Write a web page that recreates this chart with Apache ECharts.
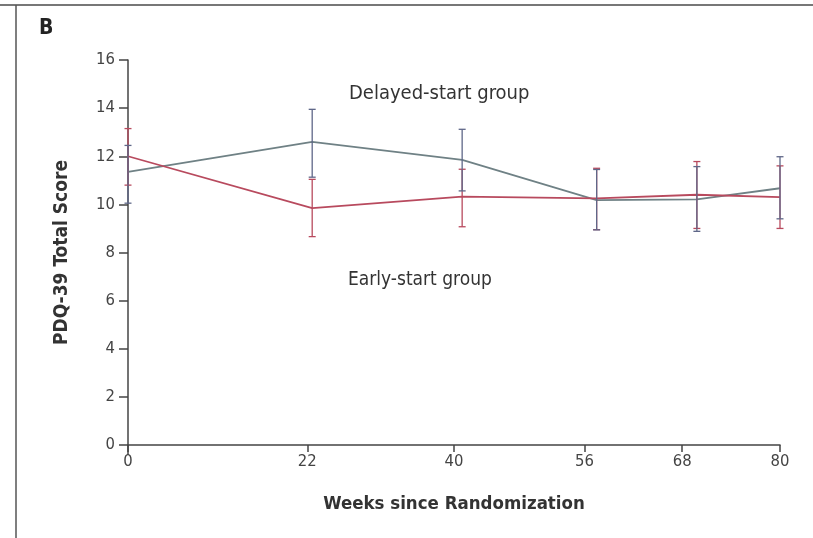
<!DOCTYPE html>
<html>
<head>
<meta charset="utf-8">
<script src="https://cdn.jsdelivr.net/npm/echarts@6/dist/echarts.min.js"></script>
<style>
  html, body { margin: 0; padding: 0; background: #fff; }
  #chart { width: 813px; height: 538px; }
</style>
</head>
<body>
<div id="chart"></div>
<script>
// Visit weeks (tick labels) and the plotted position of each visit
const tickWeeks = [0, 22, 40, 56, 68, 80];
const visitWeeks = [0, 22.6, 41, 57.5, 69.8, 80];

// PDQ-39 total score, mean with lower / upper error-bar ends
const earlyMean  = [12.0, 9.84, 10.32, 10.25, 10.4, 10.3];
const earlyLow   = [10.8, 8.66, 9.07, 8.95, 9.0, 9.0];
const earlyHigh  = [13.15, 11.04, 11.46, 11.5, 11.78, 11.6];

const delayedMean = [11.35, 12.6, 11.85, 10.18, 10.21, 10.67];
const delayedLow  = [10.05, 11.13, 10.56, 8.94, 8.88, 9.4];
const delayedHigh = [12.45, 13.95, 13.12, 11.45, 11.57, 11.98];

const yTicks = [0, 2, 4, 6, 8, 10, 12, 14, 16];

const FONT = '"Liberation Sans Narrow", "DejaVu Sans Condensed", "Open Sans", sans-serif';
const RED = '#b84a5e';
const GREY = '#6f8185';
const GREY_BAR = '#5f6788';

function pairs(xs, ys) { return xs.map((x, i) => [x, ys[i]]); }
function bars(xs, lo, hi) { return xs.map((x, i) => [x, lo[i], hi[i]]); }

function errorBar(color) {
  return function (params, api) {
    const x = api.value(0);
    const lo = api.coord([x, api.value(1)]);
    const hi = api.coord([x, api.value(2)]);
    const cap = 3.5;
    const style = { stroke: color, lineWidth: 1.3, fill: null };
    return {
      type: 'group',
      children: [
        { type: 'line', shape: { x1: lo[0], y1: lo[1], x2: hi[0], y2: hi[1] }, style },
        { type: 'line', shape: { x1: lo[0] - cap, y1: lo[1], x2: lo[0] + cap, y2: lo[1] }, style },
        { type: 'line', shape: { x1: hi[0] - cap, y1: hi[1], x2: hi[0] + cap, y2: hi[1] }, style }
      ]
    };
  };
}

const chart = echarts.init(document.getElementById('chart'), null, { renderer: 'canvas' });

chart.setOption({
  animation: false,
  backgroundColor: '#fff',
  grid: { left: 128, right: 33, top: 60, bottom: 93, containLabel: false },
  xAxis: {
    type: 'value',
    min: 0,
    max: 80,
    name: 'Weeks since Randomization',
    nameLocation: 'middle',
    nameGap: 50,
    nameTextStyle: { fontFamily: FONT, fontSize: 18.5, fontWeight: 'bold', color: '#333' },
    axisLine: { show: true, lineStyle: { color: '#444', width: 1.5 } },
    axisTick: { show: true, length: 7, customValues: tickWeeks, lineStyle: { color: '#444', width: 1.5 } },
    axisLabel: { customValues: tickWeeks, margin: 8, fontFamily: FONT, fontSize: 16.5, color: '#444' },
    splitLine: { show: false }
  },
  yAxis: {
    type: 'value',
    min: 0,
    max: 16,
    interval: 2,
    name: 'PDQ-39 Total Score',
    nameLocation: 'middle',
    nameGap: 56,
    nameRotate: 90,
    nameTextStyle: { fontFamily: FONT, fontSize: 19, fontWeight: 'bold', color: '#333' },
    axisLine: { show: true, lineStyle: { color: '#444', width: 1.5 } },
    axisTick: { show: true, length: 9, lineStyle: { color: '#444', width: 1.5 } },
    axisLabel: {
      margin: 13, fontFamily: FONT, fontSize: 16.5, color: '#444',
      formatter: v => (yTicks.includes(v) ? String(v) : '')
    },
    splitLine: { show: false }
  },
  series: [
    {
      name: 'Delayed-start group',
      type: 'line',
      data: pairs(visitWeeks, delayedMean),
      symbol: 'none',
      lineStyle: { color: GREY, width: 1.8 },
      z: 3
    },
    {
      name: 'Early-start group',
      type: 'line',
      data: pairs(visitWeeks, earlyMean),
      symbol: 'none',
      lineStyle: { color: RED, width: 1.8 },
      z: 3
    },
    {
      type: 'custom',
      data: bars(visitWeeks, earlyLow, earlyHigh),
      renderItem: errorBar(RED),
      encode: { x: 0, y: [1, 2] },
      z: 4
    },
    {
      type: 'custom',
      data: bars(visitWeeks, delayedLow, delayedHigh),
      renderItem: errorBar(GREY_BAR),
      encode: { x: 0, y: [1, 2] },
      z: 5
    }
  ],
  graphic: [
    // panel frame
    { type: 'line', shape: { x1: 0, y1: 5, x2: 813, y2: 5 }, style: { stroke: '#777', lineWidth: 2 } },
    { type: 'line', shape: { x1: 16, y1: 5, x2: 16, y2: 538 }, style: { stroke: '#555', lineWidth: 1.5 } },
    // panel letter
    { type: 'text', left: 39, top: 18, style: { text: 'B', font: 'bold 21px ' + FONT, fill: '#222' } },
    // axis stub below the origin
    { type: 'line', shape: { x1: 128, y1: 445, x2: 128, y2: 455 }, style: { stroke: '#444', lineWidth: 1.5 } },
    // group annotations
    { type: 'text', left: 349, top: 84, style: { text: 'Delayed-start group', font: '20px ' + FONT, fill: '#333' } },
    { type: 'text', left: 348, top: 271, style: { text: 'Early-start group', font: '19px ' + FONT, fill: '#333' } }
  ]
});
</script>
</body>
</html>
